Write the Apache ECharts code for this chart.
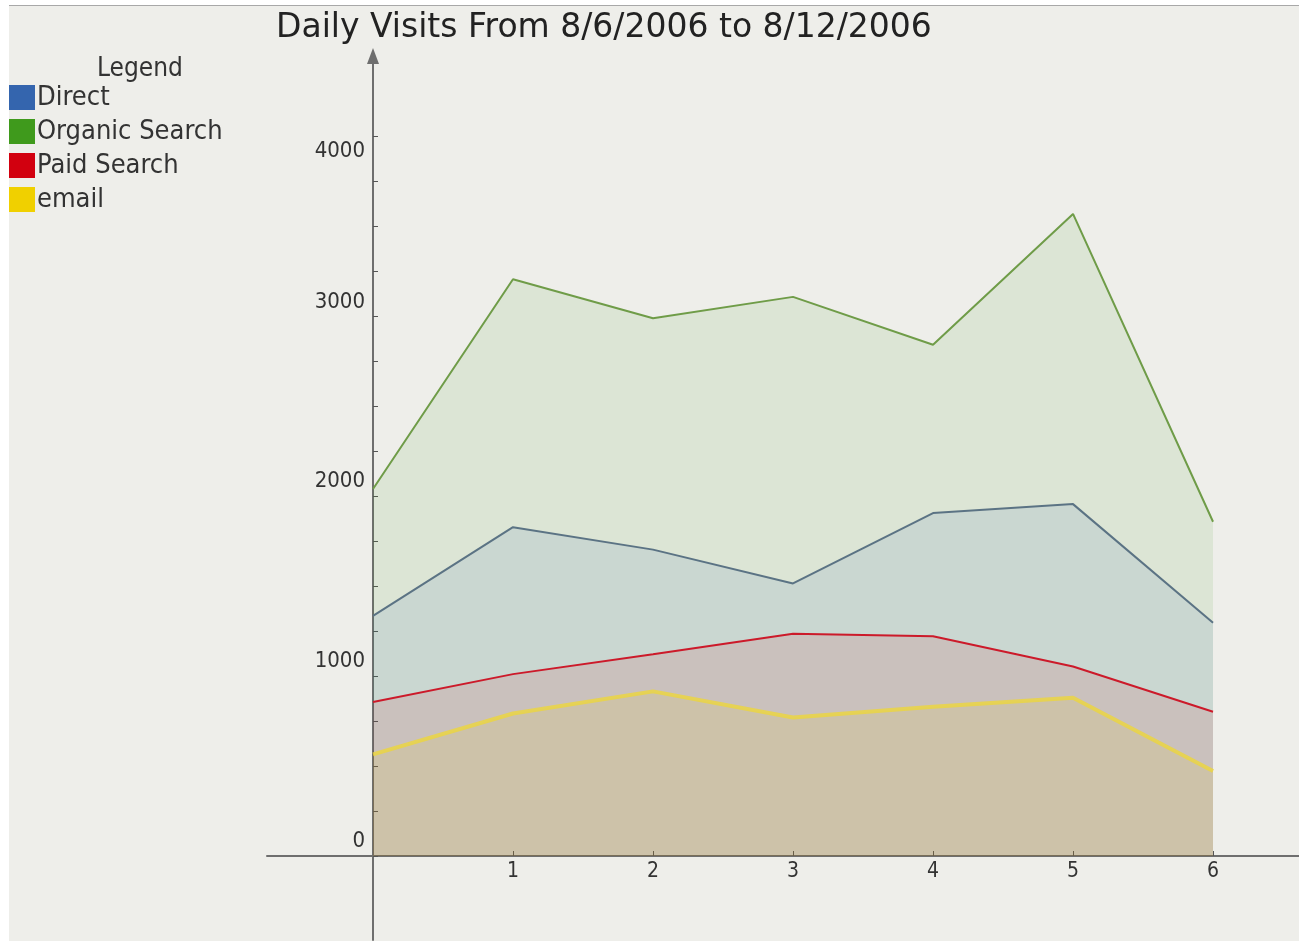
<!DOCTYPE html>
<html>
<head>
<meta charset="utf-8">
<script src="https://cdn.jsdelivr.net/npm/echarts@6/dist/echarts.min.js"></script>
<style>
  html, body { margin: 0; padding: 0; background: #ffffff; }
  #c { position: absolute; left: 9px; top: 5px; width: 1290px; height: 935px;
       background: #eeeeea; border-top: 1px solid #a8a8a8; }
</style>
</head>
<body>
<div id="c"></div>
<script>
// ---- data ----
const days = [0, 1, 2, 3, 4, 5, 6];
const seriesNames = ['Direct', 'Organic Search', 'Paid Search', 'email'];
const direct  = [1335, 1828, 1703, 1515, 1906, 1956, 1297];
const organic = [2040, 3206, 2989, 3108, 2842, 3569, 1858];
const paid    = [856, 1011, 1122, 1236, 1222, 1053, 802];
const email   = [565, 792, 915, 770, 830, 880, 472];
const xTickLabels = [1, 2, 3, 4, 5, 6];
const yTickLabels = [0, 1000, 2000, 3000, 4000];
const yMinorTicks = [0, 250, 500, 750, 1000, 1250, 1500, 1750, 2000, 2250, 2500, 2750, 3000, 3250, 3500, 3750, 4000];
const titleText = 'Daily Visits From 8/6/2006 to 8/12/2006';

const pairs = arr => days.map((d, i) => [d, arr[i]]);
const condensed = '"DejaVu Sans Condensed", "Liberation Sans Narrow", "Liberation Sans", sans-serif';

const chart = echarts.init(document.getElementById('c'), null, { renderer: 'canvas' });

function mk(name, data, legendColor, lineColor, lineWidth, fill) {
  return {
    name: name,
    type: 'line',
    data: pairs(data),
    showSymbol: false,
    symbol: 'none',
    itemStyle: { color: legendColor },
    lineStyle: { color: lineColor, width: lineWidth },
    areaStyle: { color: fill, opacity: 1 },
    emphasis: { disabled: true },
    animation: false
  };
}

chart.setOption({
  backgroundColor: '#eeeeea',
  animation: false,
  title: [
    { text: titleText, left: 262, top: 1,
      textStyle: { fontFamily: '"DejaVu Sans", sans-serif', fontSize: 33, fontWeight: 'normal', color: '#222' } },
    { text: 'Legend', left: 83, top: 45,
      textStyle: { fontFamily: condensed, fontSize: 26, fontWeight: 'normal', color: '#333' } }
  ],
  legend: {
    data: seriesNames,
    orient: 'vertical',
    left: 0, top: 78,
    padding: 0,
    icon: 'rect',
    itemWidth: 26, itemHeight: 25, itemGap: 7,
    selectedMode: false,
    textStyle: { fontFamily: condensed, fontSize: 27, color: '#333', lineHeight: 25, padding: [0, 0, 0, -3] }
  },
  grid: { left: 258, right: 0, top: 50, bottom: 1, containLabel: false, outerBoundsMode: 'none' },
  xAxis: {
    type: 'value',
    min: -0.757, max: 6.614,
    offset: -84,
    splitLine: { show: false },
    axisLine: { show: true, onZero: false, lineStyle: { color: '#6e6e6e', width: 2 } },
    axisTick: { show: true, inside: true, length: 5, customValues: xTickLabels, lineStyle: { color: '#555', width: 1 } },
    axisLabel: { show: true, customValues: xTickLabels, margin: 5,
      fontFamily: condensed, fontSize: 21, color: '#333' }
  },
  yAxis: {
    type: 'value',
    min: -467, max: 4447,
    offset: -106,
    splitLine: { show: false },
    axisLine: { show: true, onZero: false, symbol: ['none', 'triangle'], symbolSize: [12, 16],
      lineStyle: { color: '#6e6e6e', width: 2 } },
    axisTick: { show: true, inside: true, length: 5, customValues: yMinorTicks, lineStyle: { color: '#555', width: 1 } },
    axisLabel: { show: true, customValues: yTickLabels, margin: 8,
      fontFamily: condensed, fontSize: 22, color: '#333', lineHeight: 29, verticalAlign: 'middle',
      formatter: v => (v === 4000 ? ' \n' + v : v + '\n ') }
  },
  series: [
    mk('Organic Search', organic, '#3f9a1c', '#6f9c48', 2, 'rgba(70,160,30,0.10)'),
    mk('Direct', direct, '#3465ae', '#5b7384', 2, 'rgba(50,100,180,0.10)'),
    mk('Paid Search', paid, '#d2000f', '#cc1a2a', 2, 'rgba(210,0,20,0.10)'),
    mk('email', email, '#f0d000', 'rgba(236,214,60,0.8)', 4, 'rgba(240,210,0,0.10)')
  ]
});
</script>
</body>
</html>
